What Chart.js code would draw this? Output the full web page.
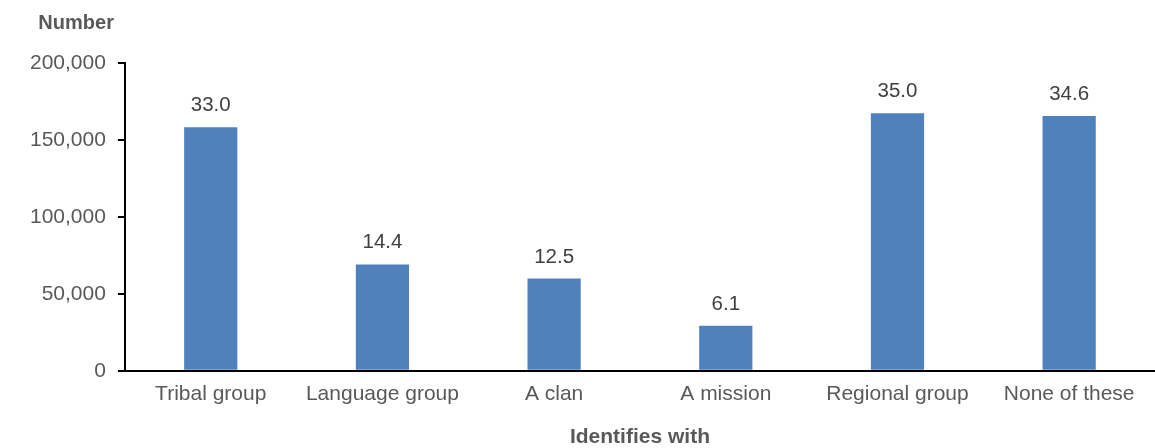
<!DOCTYPE html>
<html>
<head>
<meta charset="utf-8">
<script src="https://cdn.jsdelivr.net/npm/chart.js@4"></script>
<style>
  html, body { margin: 0; padding: 0; background: #fff; }
  #wrap { width: 1155px; height: 448px; }
</style>
</head>
<body>
<div id="wrap"><canvas id="chart"></canvas></div>
<script>
const categories = ["Tribal group", "Language group", "A clan", "A mission", "Regional group", "None of these"];
const counts = [158300, 69100, 59900, 29300, 167400, 165500];
const percents = ["33.0", "14.4", "12.5", "6.1", "35.0", "34.6"];
const yTicks = [0, 50000, 100000, 150000, 200000];

const FONT = "'Liberation Sans', Arial, sans-serif";

// value labels above bars + the "Number" heading
const labelPlugin = {
  id: "labels",
  afterDatasetsDraw(chart) {
    const ctx = chart.ctx;
    const meta = chart.getDatasetMeta(0);
    ctx.save();
    ctx.font = "20.5px " + FONT;
    ctx.fillStyle = "#404040";
    ctx.textAlign = "center";
    ctx.textBaseline = "alphabetic";
    meta.data.forEach((bar, i) => {
      ctx.fillText(percents[i], bar.x, bar.y - 16);
    });
    ctx.font = "bold 20px " + FONT;
    ctx.fillStyle = "#595959";
    ctx.textAlign = "right";
    ctx.fillText("Number", chart.chartArea.left - 11, 29);
    ctx.restore();
  },
};

new Chart(document.getElementById("chart"), {
  type: "bar",
  data: {
    labels: categories,
    datasets: [
      {
        data: counts,
        backgroundColor: "#4F81BD",
        borderWidth: 0,
        categoryPercentage: 1,
        barPercentage: 0.31,
      },
    ],
  },
  options: {
    responsive: true,
    maintainAspectRatio: false,
    animation: false,
    layout: { padding: { left: 18, right: 0, top: 63, bottom: 0 } },
    plugins: { legend: { display: false }, tooltip: { enabled: false } },
    scales: {
      x: {
        grid: { display: false },
        border: { display: true, color: "#000", width: 2 },
        ticks: { color: "#595959", font: { family: FONT, size: 21 }, padding: 3, maxRotation: 0 },
        title: {
          display: true,
          text: "Identifies with",
          color: "#595959",
          font: { family: FONT, size: 21, weight: "bold", lineHeight: 1 },
          padding: { top: 17, bottom: 0 },
        },
      },
      y: {
        min: 0,
        max: 200000,
        afterBuildTicks(axis) {
          axis.ticks = yTicks.map((v) => ({ value: v }));
        },
        grid: { drawOnChartArea: false, drawTicks: true, tickLength: 7, color: "#000", lineWidth: 2 },
        border: { display: true, color: "#000", width: 2 },
        ticks: {
          color: "#595959",
          font: { family: FONT, size: 21 },
          padding: 12,
          callback: (v) => v.toLocaleString("en-US"),
        },
      },
    },
  },
  plugins: [labelPlugin],
});
</script>
</body>
</html>
